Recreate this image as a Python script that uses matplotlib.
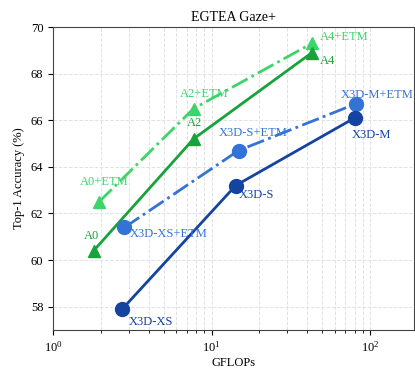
import matplotlib
matplotlib.use("Agg")
import matplotlib.pyplot as plt

# get data
a_flops = [1.8, 7.7, 43]
a_acc = [60.4, 65.2, 68.9]
a_etm_flops = [1.95, 7.7, 43]
a_etm_acc = [62.5, 66.5, 69.3]
x3d_flops = [2.73, 14.2, 80]
x3d_acc = [57.9, 63.2, 66.1]
x3d_etm_flops = [2.82, 14.8, 81]
x3d_etm_acc = [61.4, 64.7, 66.7]
a_names = ["A0", "A2", "A4"]
x3d_names = ["X3D-XS", "X3D-S", "X3D-M"]

plt.rcParams['font.family'] = ['Liberation Serif', 'DejaVu Serif']

c_a = '#16a33a'
c_a_etm = '#3dd46a'
c_x = '#1543a0'
c_x_etm = '#3473d6'

fig = plt.figure(figsize=(4.15, 3.7), dpi=100)
ax = fig.add_axes([0.128, 0.108, 0.87, 0.819])

# plot data
ax.plot(a_etm_flops, a_etm_acc, '-.', color=c_a_etm, lw=2, marker='^', ms=9)
ax.plot(a_flops, a_acc, '-', color=c_a, lw=2, marker='^', ms=9)
ax.plot(x3d_etm_flops, x3d_etm_acc, '-.', color=c_x_etm, lw=2, marker='o', ms=10)
ax.plot(x3d_flops, x3d_acc, '-', color=c_x, lw=2, marker='o', ms=10)

fs = 9
a_off = [(-7, 6), (-5, 7), (6, -6)]
a_etm_off = [(-14, 10), (-10, 6), (6, 0)]
x_off = [(5, -9), (2, -7), (-2, -12)]
x_etm_off = [(4, -5), (-14, 8), (-11, 2)]
for i in range(3):
    ax.annotate(a_names[i], (a_flops[i], a_acc[i]), xytext=a_off[i], textcoords='offset points',
                color=c_a, fontsize=fs, ha='left', va='bottom' if i < 2 else 'center')
    ax.annotate(a_names[i] + "+ETM", (a_etm_flops[i], a_etm_acc[i]), xytext=a_etm_off[i],
                textcoords='offset points', color=c_a_etm, fontsize=fs, ha='left', va='bottom')
    ax.annotate(x3d_names[i], (x3d_flops[i], x3d_acc[i]), xytext=x_off[i], textcoords='offset points',
                color=c_x, fontsize=fs, ha='left', va='center')
    ax.annotate(x3d_names[i] + "+ETM", (x3d_etm_flops[i], x3d_etm_acc[i]), xytext=x_etm_off[i],
                textcoords='offset points', color=c_x_etm, fontsize=fs, ha='left',
                va='bottom' if i > 0 else 'center')

ax.set_xscale('log')
ax.set_xlim(1, 190)
ax.set_ylim(57, 70)
ax.set_yticks([58, 60, 62, 64, 66, 68, 70])
ax.grid(True, which='major', ls='--', color='#e2e2e2', lw=0.7)
ax.grid(True, which='minor', axis='x', ls='--', color='#e2e2e2', lw=0.7)
ax.set_axisbelow(True)
for s in ax.spines.values():
    s.set_color('#444444')
ax.tick_params(labelsize=9)
ax.set_title('EGTEA Gaze+', fontsize=10, pad=4)
ax.set_xlabel('GFLOPs', fontsize=9, labelpad=2)
ax.set_ylabel('Top-1 Accuracy (%)', fontsize=9)

fig.savefig('out.png', dpi=100)
